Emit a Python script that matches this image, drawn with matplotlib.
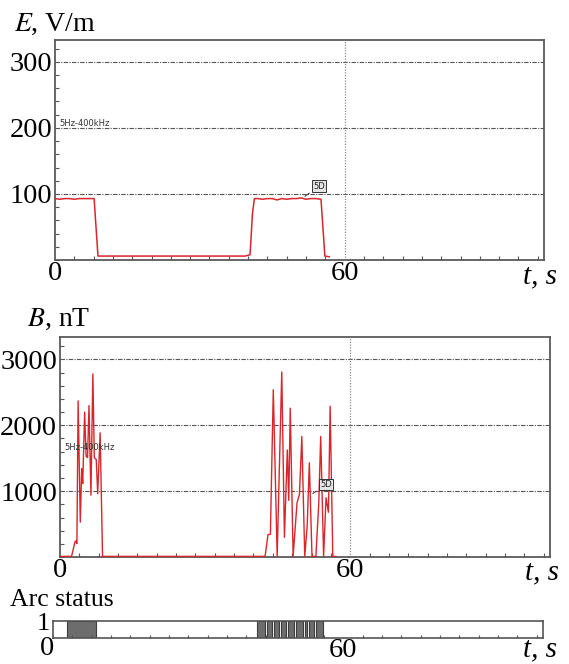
import matplotlib
matplotlib.use('Agg')
import matplotlib.pyplot as plt
from matplotlib.ticker import MultipleLocator

plt.rcParams['font.family'] = ['Liberation Serif', 'DejaVu Serif']
plt.rcParams['mathtext.fontset'] = 'stix'

# electric field, V/m
e_t = [0, 1, 2, 3, 4, 5, 6, 7, 8.1, 8.4, 8.9, 12, 20, 30, 39.4, 40.4, 40.9, 41.3,
       42, 43, 44, 45, 46, 47, 48, 49, 50, 51, 52, 53, 54, 55.1, 55.9, 56.8]
e_v = [93, 92, 93, 93, 92, 93, 93, 93, 93, 60, 6, 6, 6, 6, 6, 8, 70, 93,
       93, 92, 93, 93, 91, 93, 92, 93, 93, 94, 92, 93, 93, 92, 6, 5]

# magnetic field, nT
b_t = [0, 2.4, 3.1, 3.3, 3.5, 3.75, 4.2, 4.5, 4.7, 5.1, 5.4, 5.7, 6.0, 6.4, 6.8,
       7.1, 7.5, 7.8, 8.3, 8.8, 20, 42.4, 43.0, 43.5, 44.1, 44.9, 45.85, 46.4,
       47.0, 47.3, 47.6, 48.2, 49.0, 49.5, 50.0, 50.6, 51.1, 51.55, 52.1, 52.9,
       53.5, 53.9, 54.5, 55.0, 55.5, 55.85, 56.4, 57.0]
b_v = [10, 10, 230, 245, 205, 2370, 530, 1340, 1115, 2200, 1530, 1510, 2300, 940, 2780,
       1510, 1480, 960, 1885, 10, 10, 10, 340, 345, 2540, 10, 2810, 300,
       1625, 860, 2260, 10, 820, 950, 1830, 10, 465, 1430, 10, 10,
       820, 1830, 10, 900, 680, 2290, 10, 10]

# arc present intervals, s
arc_on = [(2.9, 8.9), (42.1, 43.9), (44.3, 45.3), (45.7, 46.7), (47.1, 48.2),
          (48.6, 49.9), (50.3, 51.7), (52.1, 52.6), (53.0, 53.9), (54.3, 55.9)]

red = '#d8262c'
grid_c = '#555555'
spine_c = '#5a5a5a'
tmax = 101.3
tick_fs = 20.5

fig = plt.figure(figsize=(5.69, 6.64), dpi=100)


def setup(ax, ymax, ystep, yminor):
    ax.set_xlim(0, tmax)
    ax.set_ylim(0, ymax)
    for s in ax.spines.values():
        s.set_color(spine_c)
        s.set_linewidth(1.3)
    ax.set_xticks([0, 60])
    ax.set_xticklabels(['0', '60'])
    ax.set_yticks([ystep, 2 * ystep, 3 * ystep])
    ax.xaxis.set_minor_locator(MultipleLocator(4))
    ax.yaxis.set_minor_locator(MultipleLocator(yminor))
    ax.tick_params(which='both', direction='in', color='#555', width=0.8)
    ax.tick_params(which='major', length=0, labelsize=tick_fs, pad=2)
    ax.tick_params(which='minor', length=3)
    ax.tick_params(axis='x', which='major', pad=1)
    for y in [ystep, 2 * ystep, 3 * ystep]:
        ax.axhline(y, color=grid_c, lw=0.8, ls=(0, (4, 1.2, 1, 1.2)), zorder=1)
    ax.axvline(60, color='#8a8a8a', lw=0.9, ls=(0, (1, 1.2)), zorder=1)


def tag(ax, xy, xytext):
    ax.annotate('5D', xy=xy, xytext=xytext, fontsize=6, family='DejaVu Sans',
                ha='center', va='center', color='#222',
                bbox=dict(boxstyle='square,pad=0.15', fc='#e4e4e4', ec='#333', lw=0.7),
                arrowprops=dict(arrowstyle='-', color='#333', lw=0.7))


# E panel
ax1 = fig.add_axes([0.0967, 0.6084, 0.8594, 0.3313])
setup(ax1, 333, 100, 20)
ax1.plot(e_t, e_v, color=red, lw=1.1, zorder=3)
ax1.text(1, 203, '5Hz-400kHz', fontsize=6, family='DejaVu Sans', color='#333')
tag(ax1, (51.3, 94), (54.7, 112))
fig.text(14 / 569, 1 - 31 / 664, r'$E$, V/m', fontsize=20, va='baseline')
fig.text(523 / 569, 1 - 283 / 664, 't, s', fontsize=21, style='italic', va='baseline')

# B panel
ax2 = fig.add_axes([0.1054, 0.1611, 0.8612, 0.3313])
setup(ax2, 3340, 1000, 200)
ax2.plot(b_t, b_v, color=red, lw=1.0, zorder=3)
ax2.text(1, 1630, '5Hz-400kHz', fontsize=6, family='DejaVu Sans', color='#333')
tag(ax2, (51.8, 940), (55.0, 1105))
fig.text(27 / 569, 1 - 326 / 664, r'$B$, nT', fontsize=20, va='baseline')
fig.text(525 / 569, 1 - 579 / 664, 't, s', fontsize=21, style='italic', va='baseline')

# arc status strip
ax3 = fig.add_axes([0.0931, 0.0392, 0.8612, 0.0256])
ax3.set_xlim(0, tmax)
ax3.set_ylim(0, 1)
for s in ax3.spines.values():
    s.set_color('#555')
    s.set_linewidth(1.2)
ax3.broken_barh([(a, b - a) for a, b in arc_on], (0, 1),
                facecolor='#6d6d6d', edgecolor='#3c3c3c', lw=0.8)
ax3.set_yticks([])
ax3.set_xticks([60])
ax3.set_xticklabels(['60'])
ax3.xaxis.set_minor_locator(MultipleLocator(4))
ax3.tick_params(which='both', direction='in', color='#555', width=0.8)
ax3.tick_params(which='major', length=0, labelsize=tick_fs, pad=0)
ax3.tick_params(which='minor', length=2)
ax3.text(-0.007, 0.8, '1', transform=ax3.transAxes, fontsize=19, ha='right', va='center')
ax3.text(-0.013, -0.6, '0', transform=ax3.transAxes, fontsize=tick_fs, ha='center', va='center')
fig.text(10 / 569, 1 - 606 / 664, 'Arc status', fontsize=18.5, va='baseline')
fig.text(523 / 569, 1 - 656 / 664, 't, s', fontsize=21, style='italic', va='baseline')

fig.savefig('out.png', dpi=100)
